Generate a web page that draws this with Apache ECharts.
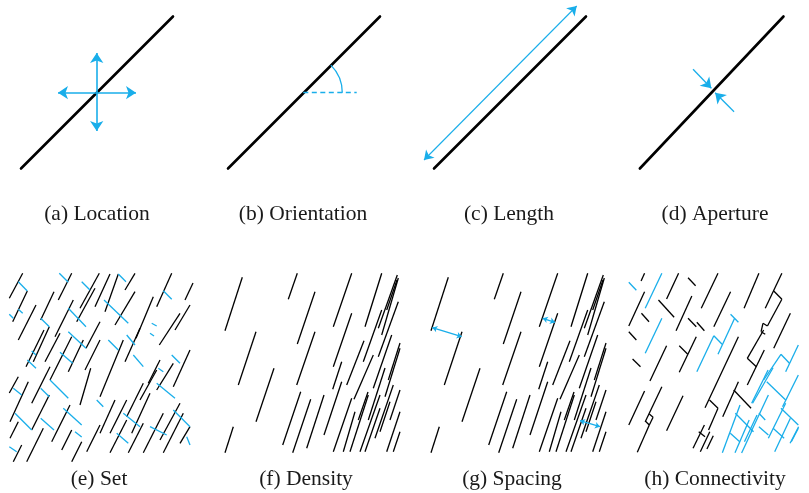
<!DOCTYPE html>
<html>
<head>
<meta charset="utf-8">
<script src="https://cdn.jsdelivr.net/npm/echarts@6/dist/echarts.min.js"></script>
<style>
  html, body { margin: 0; padding: 0; background: #ffffff; }
  #chart { width: 809px; height: 493px; }
</style>
</head>
<body>
<div id="chart"></div>
<script>
// Fracture attribute sketches: four single-fracture attributes (top row)
// and four network-level attributes (bottom row).
// Each segment is [x1, y1, x2, y2] in panel units (x from the panel's left edge, y downward).

const PANEL_LABELS = ['(a) Location', '(b) Orientation', '(c) Length', '(d) Aperture',
                      '(e) Set', '(f) Density', '(g) Spacing', '(h) Connectivity'];

// single fracture trace shared by panels (a)-(d)
const FRACTURE = [21, 168.5, 173, 16.5];

// (a) location: two double-headed arrows through the fracture centre
const LOCATION_ARROWS = [[96.7, 53, 96.7, 131], [58, 92.7, 136, 92.7]];

// (b) orientation: horizontal reference and the angle arc [cx, cy, r, fromDeg, toDeg]
const ORIENT_REFERENCE = [[96.3, 92.7, 149.7, 92.7]];
const ORIENT_ARC = [[96.3, 92.7, 39, 0, 45]];

// (c) length: double-headed arrow beside the trace
const LENGTH_ARROW = [[11, 160, 163.7, 6]];

// (d) aperture: two arrows pointing at the trace from either side
const APERTURE_ARROWS = [[77.3, 69.3, 96.7, 88.3], [120.7, 111.7, 100.7, 92.7]];

// (e) two fracture sets
const SET_MAIN = [
  [9.3, 298.3, 22.7, 273.3], [12.7, 321.7, 27.3, 291], [18.3, 340, 36, 305], [26, 366.7, 44, 330],
  [33.3, 361.7, 49.3, 326.7], [40.7, 320, 54, 291.7], [58.3, 300, 71.7, 273.3], [55, 336.7, 73.3, 300],
  [50, 380, 71.7, 336.7], [68.3, 371.7, 83.3, 340], [80, 308.3, 99.3, 273.3], [86, 348.3, 100, 321.7],
  [76.7, 321.7, 95, 288.3], [9.3, 393, 18.3, 376.7], [10, 421.7, 28.3, 381.7], [10, 438.3, 18.3, 421.7],
  [13.3, 461.7, 21.7, 445], [26.7, 461.7, 43.3, 428.3], [31.7, 403.3, 50, 366.7], [31.7, 430, 49.3, 395],
  [51.7, 441.7, 70, 405], [61.7, 450, 71.7, 430], [71.7, 461.7, 81.7, 441.7], [80, 405, 90.7, 368.3],
  [86.7, 451.7, 100, 425], [95, 306.7, 110, 274], [105, 311.7, 118.3, 274], [115, 325, 135, 291.7],
  [136, 338.3, 153.3, 296.7], [156.7, 306.7, 171.7, 273.3], [159.3, 345, 180, 313.3], [100, 396.7, 123.3, 340],
  [125, 361.7, 140, 328.3], [85, 370, 100, 340], [173.3, 386.7, 190, 350], [156.7, 390, 173.3, 363.3],
  [140, 400, 156.7, 370], [126.7, 416.7, 143.3, 383.3], [110, 433.3, 126.7, 400], [131.7, 433.3, 150, 393.3],
  [100, 433.3, 115, 400], [160, 440, 180, 403.3], [180, 443.3, 190, 426.7], [110, 452.7, 126.7, 420],
  [128.3, 452.7, 143.3, 423.3], [143.3, 452.7, 163.3, 413.3], [163.3, 452.7, 183.3, 413.3],
  [125, 290, 135, 273.3], [175, 330, 190, 305], [185, 300, 193, 283], [45, 361.7, 60, 333.3],
  [148.3, 383.3, 160, 360]
];
const SET_SECOND = [
  [18.3, 281.7, 27.3, 291], [9.3, 314.3, 13.3, 318.3], [18.3, 309.3, 22.7, 313.3], [31.7, 351, 36, 355],
  [27.3, 360, 36, 368.3], [40.7, 318.3, 49.3, 326.7], [59.3, 273.3, 68.3, 282.3], [68.3, 331.7, 86, 348.3],
  [60, 352.3, 72.7, 363.3], [68.3, 308.3, 86, 326.7], [81.7, 281.7, 90, 290], [13.3, 388.3, 21.7, 395],
  [15, 413.3, 31.7, 430], [9.3, 446.7, 16.7, 451.7], [40.7, 388.3, 49.3, 396.7], [50, 380, 68.3, 398.3],
  [40.7, 418.3, 54, 430], [63.3, 408.3, 81.7, 425], [75, 431.7, 81.7, 437], [118.3, 274, 126, 281.7],
  [104, 300, 128.3, 323.3], [126.7, 335, 135, 345], [133.3, 355, 143.3, 366.7], [163.3, 290.7, 171.7, 299.3],
  [151.7, 323.3, 156.7, 326], [150, 333.3, 154, 336], [171.7, 355, 180, 363.3], [156.7, 383.3, 175, 398.3],
  [123.3, 413.3, 140, 426.7], [173.3, 410, 190, 426.7], [116.7, 433.3, 128.3, 443.3], [150, 426.7, 166.7, 435],
  [96.7, 400, 103.3, 406.7], [158.3, 368.3, 163.3, 371.7], [108.3, 340, 118.3, 350], [186.7, 436.7, 190, 445]
];

// (f) and (g) share one fracture trace map, sparse on the left, dense on the right
const SPACED_TRACES = [
  [25, 330.7, 42.3, 277.3], [38.3, 385, 56, 331.7], [56, 421.7, 74, 368.3], [25, 452.7, 33.3, 426.7],
  [88.3, 299.3, 97.3, 273.3], [97.3, 344, 115, 291.7], [96.7, 385, 115, 331.7], [82.7, 445, 100.7, 391.7],
  [92.7, 452.7, 110.7, 399.3], [106.7, 448.3, 124, 395], [124, 435, 141.7, 381.7], [133.3, 326.7, 151.7, 273.3],
  [133.3, 366.7, 151.7, 313.3], [132.7, 389.3, 141.7, 361.7], [146.7, 385, 164, 340.7], [133.3, 451.7, 151.7, 398.3],
  [143.3, 451.7, 155, 411.7], [154, 399.3, 173.3, 355], [150, 451.7, 168.3, 395], [160, 451.7, 180, 395],
  [165, 451.7, 180, 408.3], [165, 326.7, 181.7, 273.3], [178.3, 328.3, 197.3, 275], [178.3, 356.7, 198.3, 301.7],
  [163.3, 361.7, 181.7, 310], [173.3, 388.3, 191.7, 335], [185, 396.7, 200, 348.3], [175, 438.3, 193.3, 385],
  [180, 431.7, 190, 401.7], [186.7, 451.7, 200, 411.7], [193.3, 451.7, 200, 431.7], [181.7, 335, 198.3, 278],
  [168.3, 420, 185, 368], [188.3, 380, 200, 343], [186.7, 310, 197, 280], [190, 420, 200, 390],
  [158.3, 420, 168, 392]
];
// (g) spacing measured between neighbouring traces
const SPACING_ARROWS = [[26.3, 327.7, 55.7, 336.7], [136.7, 318.3, 149, 322.3], [174, 420.7, 194, 426.7]];

// (h) isolated traces and the connected cluster
const ISOLATED = [
  [22.3, 281, 26, 273.3], [9.3, 326, 26, 291.7], [22.7, 313.3, 30.7, 321.7], [40.7, 300, 57.3, 317.3],
  [49.3, 299, 62, 273.3], [72, 277.7, 80, 285.7], [59.3, 330.7, 76, 296], [86, 308.3, 103.7, 273.3],
  [72, 318.3, 80.7, 326.7], [81.3, 322.3, 89.3, 330.7], [9.3, 331.7, 17.3, 340], [13.3, 359, 21.7, 366.7],
  [31.7, 381, 49.3, 345.7], [62.7, 372.3, 80.7, 336.7], [62.7, 345.7, 71.7, 354.3], [9.3, 425, 26, 391],
  [26.7, 421.7, 44.3, 386.7], [26.7, 421, 31, 425], [31, 425, 35, 417.3], [31, 414, 35, 417.3],
  [18.3, 452.3, 31, 425], [49.3, 430.7, 66.7, 395.7], [77.3, 448.3, 89.3, 425], [85, 451.7, 95, 431.7],
  [83.3, 431.7, 90, 436.7], [99.3, 326.7, 117, 291.7], [131.3, 308.3, 147, 273.3], [153.7, 308.3, 171.3, 273.3],
  [162.7, 291, 171.3, 299.3], [156, 326, 171.3, 299.3], [151.3, 323.3, 156, 326], [149.3, 331.7, 151.3, 323.3],
  [149.3, 331.7, 153.7, 334.3], [134.7, 358.3, 152, 330], [134.7, 358.3, 144.3, 366.7], [134.7, 385, 152.7, 350],
  [162.7, 348.3, 180.3, 313.3], [90, 407.7, 125.3, 336.7], [94.7, 400, 103.7, 408.3], [93.7, 430, 103.7, 408.3],
  [108.7, 416.7, 125.3, 381.7], [120.3, 390, 138.7, 408.3], [92, 449, 98.7, 435.7]
];
const CONNECTED = [
  [9.3, 282.3, 17.3, 290.3], [26.7, 308.3, 44.3, 273.3], [26.7, 353.3, 44.3, 318.3], [81.3, 371.7, 99.3, 335.7],
  [99.3, 335.7, 108, 344.3], [103.7, 354.3, 121.3, 318.3], [117, 314.3, 125.3, 322.3],
  [108.3, 452.7, 127, 405], [121.7, 452.7, 136.7, 420], [116.7, 433.3, 126.7, 441.7], [122, 413.3, 141.3, 431.7],
  [138.7, 431.7, 157, 395], [140.3, 403.3, 162, 367.7], [147, 413.3, 153.7, 420], [147, 426.7, 157, 435],
  [152, 380, 170.3, 354.3], [170.3, 354.3, 179.3, 363.3], [175.3, 371.7, 188.7, 345], [155.3, 381.7, 175.3, 400],
  [157, 438.3, 175.3, 403.3], [162, 428.3, 173.7, 438.3], [163.7, 451.7, 180.3, 418.3], [172, 406.7, 188.7, 375],
  [170.3, 408.3, 188.7, 425], [181.3, 441.7, 188.7, 428.3], [128.7, 453, 140, 430],
  [131.7, 441.7, 145, 415], [139.3, 403.3, 156.7, 370], [180, 443.3, 189, 426.7]
];

const LABEL_X = [97, 303, 509, 715, 99, 306, 512, 715];
const LABEL_Y = [214, 214, 214, 214, 479, 479, 479, 479];
const PANEL_LEFT = [0, 207, 413, 620, 0, 200, 406, 620];

const BLUE = '#19aeea';
const INK = '#000000';
const FONT = 'normal 21.5px "Liberation Serif", "DejaVu Serif", serif';

const chart = echarts.init(document.getElementById('chart'), null, { renderer: 'canvas' });

const grids = PANEL_LEFT.map(l => ({ left: l, top: 0, width: 200, height: 493, containLabel: false }));
const xAxes = PANEL_LEFT.map((_, i) => ({ type: 'value', gridIndex: i, min: 0, max: 200, show: false }));
const yAxes = PANEL_LEFT.map((_, i) => ({ type: 'value', gridIndex: i, min: 0, max: 493, inverse: true, show: false }));

function segs(list) {
  return list.map(s => ({ coords: [[s[0], s[1]], [s[2], s[3]]] }));
}
function linesSeries(panel, list, style, extra) {
  return Object.assign({
    type: 'lines', coordinateSystem: 'cartesian2d',
    xAxisIndex: panel, yAxisIndex: panel,
    polyline: false, silent: true, animation: false,
    symbol: 'none',
    lineStyle: Object.assign({ opacity: 1, curveness: 0 }, style),
    data: segs(list)
  }, extra || {});
}

const series = [];

// thick single trace in each of the top panels
for (let p = 0; p < 4; p++) {
  series.push(linesSeries(p, [FRACTURE], { color: INK, width: 2.6, cap: 'round' }));
}
// (a)
series.push(linesSeries(0, LOCATION_ARROWS, { color: BLUE, width: 1.6 },
  { symbol: ['arrow', 'arrow'], symbolSize: 10 }));
// (b)
series.push(linesSeries(1, ORIENT_REFERENCE, { color: BLUE, width: 1.3, type: [5, 3.5] }));
series.push({
  type: 'custom', xAxisIndex: 1, yAxisIndex: 1, silent: true, animation: false,
  encode: { x: 0, y: 1 },
  data: ORIENT_ARC,
  renderItem: function (params, api) {
    const c = api.coord([api.value(0), api.value(1)]);
    const r = api.size([api.value(2), 0])[0];
    return {
      type: 'arc',
      shape: {
        cx: c[0], cy: c[1], r: r,
        startAngle: -api.value(4) * Math.PI / 180,
        endAngle: -api.value(3) * Math.PI / 180,
        clockwise: true
      },
      style: { stroke: BLUE, fill: null, lineWidth: 1.3 }
    };
  }
});
// (c)
series.push(linesSeries(2, LENGTH_ARROW, { color: BLUE, width: 1.1 },
  { symbol: ['arrow', 'arrow'], symbolSize: 9 }));
// (d)
series.push(linesSeries(3, APERTURE_ARROWS, { color: BLUE, width: 1.3 },
  { symbol: ['none', 'arrow'], symbolSize: 10 }));

// bottom row networks
series.push(linesSeries(4, SET_MAIN, { color: INK, width: 1.3 }));
series.push(linesSeries(4, SET_SECOND, { color: BLUE, width: 1.3 }));
series.push(linesSeries(5, SPACED_TRACES, { color: INK, width: 1.3 }));
series.push(linesSeries(6, SPACED_TRACES, { color: INK, width: 1.3 }));
series.push(linesSeries(6, SPACING_ARROWS, { color: BLUE, width: 1.3 },
  { symbol: ['arrow', 'arrow'], symbolSize: 5 }));
series.push(linesSeries(7, ISOLATED, { color: INK, width: 1.3 }));
series.push(linesSeries(7, CONNECTED, { color: BLUE, width: 1.3 }));

const labels = PANEL_LABELS.map((t, i) => ({
  type: 'text', x: LABEL_X[i], y: LABEL_Y[i], silent: true,
  style: {
    text: t, font: FONT, fill: '#1a1a1a',
    align: 'center', verticalAlign: 'middle',
    textAlign: 'center', textVerticalAlign: 'middle'
  }
}));

chart.setOption({
  backgroundColor: '#ffffff',
  animation: false,
  grid: grids,
  xAxis: xAxes,
  yAxis: yAxes,
  series: series,
  graphic: labels
});
</script>
</body>
</html>
